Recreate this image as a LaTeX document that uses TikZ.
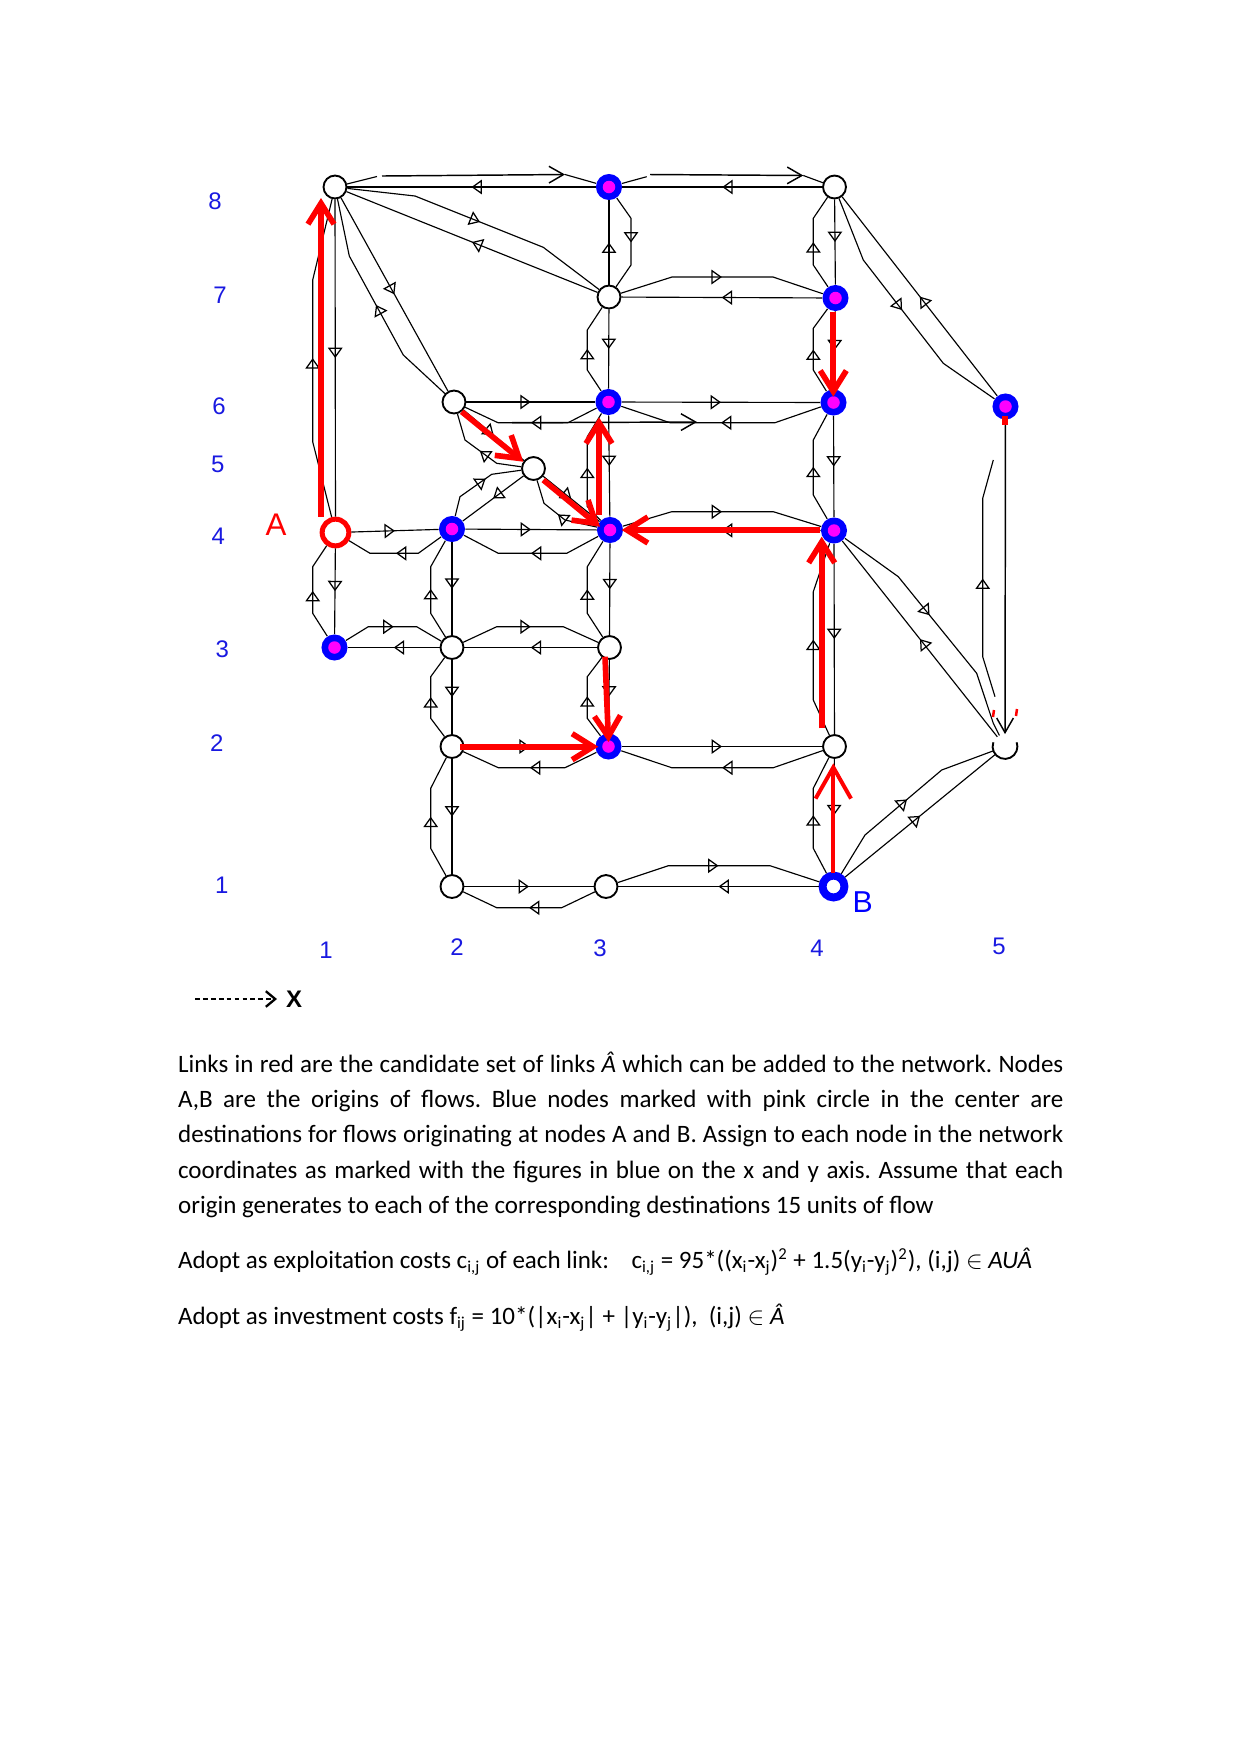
\documentclass[tikz,border=0pt]{standalone}
\usepackage{fontspec}
\setmainfont{Carlito}
\newfontfamily\arialf{Liberation Sans}
\usetikzlibrary{arrows.meta,decorations.markings,calc}
\definecolor{lblue}{RGB}{25,25,225}
\definecolor{pinkc}{RGB}{255,0,255}
\definecolor{nblue}{RGB}{0,0,255}
\definecolor{rred}{RGB}{255,0,0}
\tikzset{
 wn/.style={circle, draw=black, line width=0.9pt, fill=white, minimum size=11pt, inner sep=0pt},
 bn/.style={circle, fill=nblue, minimum size=12.5pt, inner sep=0pt, path picture={\fill[pinkc] (path picture bounding box.center) circle (3pt);}},
 an/.style={circle, draw=rred, line width=2.4pt, fill=white, minimum size=12.8pt, inner sep=0pt},
 bbn/.style={circle, draw=nblue, line width=3.8pt, fill=white, minimum size=10.5pt, inner sep=0pt},
 lk/.style={line width=0.55pt, postaction={decorate}, decoration={markings, mark=at position #1 with {\arrow{Triangle[open,length=5pt,width=7pt,line width=0.6pt]}}}},
 lk/.default=0.5,
 ln/.style={line width=0.55pt},
 va/.style={line width=0.7pt, -{Straight Barb[length=7pt,width=8pt,line width=0.7pt]}},
 ra/.style={draw=rred, line width=2.7pt, -{Straight Barb[length=10pt,width=12.5pt]}},
 lab/.style={text=lblue, font=\arialf\fontsize{11.5pt}{13pt}\selectfont, inner sep=0pt},
}
\begin{document}
\begin{tikzpicture}[x=0.47968pt,y=-0.47968pt]
\path[use as bounding box, fill=white] (0,0) rectangle (1241,1755);

% nodes
\node[wn] (n18) at (335,187) {};
\node[bn] (n38) at (609,187) {};
\node[wn] (n48) at (834.5,187) {};
\node[wn] (n37) at (609,297) {};
\node[bn] (n47) at (835.5,298) {};
\node[wn] (n26) at (454,402) {};
\node[bn] (n36) at (608.5,402) {};
\node[bn] (n46) at (833.5,402.5) {};
\node[bn] (n56) at (1005.5,406.5) {};
\node[wn] (n25) at (533.5,468.5) {};
\node[an] (nA) at (335.5,532.5) {};
\node[bn] (n24) at (452,529) {};
\node[bn] (n34) at (610,530) {};
\node[bn] (n44) at (834,530.5) {};
\node[bn] (n13) at (334.5,647.5) {};
\node[wn] (n23) at (452,647.5) {};
\node[wn] (n33) at (609.5,647.5) {};
\node[wn] (n22) at (452,746.5) {};
\node[bn] (n32) at (608.5,746.5) {};
\node[wn] (n42) at (834.5,746.5) {};
\node[wn,draw=none] (n52) at (1005,746.5) {};
\draw[line width=0.9pt] (n52.160) arc[start angle=160,end angle=380,radius=5.95pt];
\node[wn] (n21) at (452,886.5) {};
\node[wn] (n31) at (606,886.5) {};
\node[bbn] (nB) at (833.5,886.5) {};

% labels
\node[lab] (ly8) at (215,201.7) {8};
\node[lab] (ly7) at (220,295) {7};
\node[lab] (ly6) at (219,406.7) {6};
\node[lab] (ly5) at (217.7,464.3) {5};
\node[lab] (ly4) at (218.3,536.7) {4};
\node[lab] (ly3) at (222.3,649.3) {3};
\node[lab] (ly2) at (216.7,743) {2};
\node[lab] (ly1) at (221.7,885) {1};
\node[lab] (lx1) at (326,950) {1};
\node[lab] (lx2) at (457,946.7) {2};
\node[lab] (lx3) at (600,948) {3};
\node[lab] (lx4) at (817,948) {4};
\node[lab] (lx5) at (999,946) {5};
\node[text=rred, font=\arialf\fontsize{15pt}{17pt}\selectfont, inner sep=0pt] (lA) at (276,525) {A};
\node[text=nblue, font=\arialf\fontsize{14.5pt}{16pt}\selectfont, inner sep=0pt] (lB) at (862.7,901.7) {B};

% row 8
\draw[lk] (n38) -- (n18);
\draw[ln] (n18) -- (377,176.5);
\coordinate (u2) at (382,176); \coordinate (u3) at (565,174.5);
\draw[va] (u2) -- (u3); \draw[ln] (u3) -- (n38);
\draw[lk] (n48) -- (n38);
\draw[ln] (n38) -- (646.7,176.7);
\coordinate (u5) at (650,174.5); \coordinate (u6) at (803.3,175.5);
\draw[va] (u5) -- (u6); \draw[ln] (u6) -- (n48);
% row 7
\draw[lk] (n47) -- (n37);
\draw[lk] (n37) -- (672,277) -- (773,277) -- (n47);
% row 6
\draw[lk] (n26) -- (n36);
\draw[lk] (n36) -- (568,422.7) -- (498,422.7) -- (n26);
\coordinate (w1) at (512,422.7); \coordinate (w2) at (697,422);
\draw[va] (w1) -- (w2);
\draw[lk] (n36) -- (n46);
\draw[lk] (n46) -- (775,422.7) -- (670,422.7) -- (n36);
% row 4
\draw[lk] (nA) -- (n24);
\draw[lk] (n24) -- (418.3,553.3) -- (370,553.3) -- (nA);
\draw[lk] (n24) -- (n34);
\draw[lk] (n34) -- (566.7,553.3) -- (498.3,553.3) -- (n24);
\draw[lk] (n44) -- (n34);
\draw[lk] (n34) -- (671.7,511.7) -- (773.3,511.7) -- (n44);
% row 3
\draw[lk] (n23) -- (n13);
\draw[lk] (n13) -- (368.3,626.7) -- (416.7,626.7) -- (n23);
\draw[lk] (n33) -- (n23);
\draw[lk] (n23) -- (496.7,626.7) -- (563.3,626.7) -- (n33);
% row 2
\draw[lk] (n22) -- (n32);
\draw[lk] (n32) -- (565,767.7) -- (498.3,767.7) -- (n22);
\draw[lk] (n32) -- (n42);
\draw[lk] (n42) -- (773.3,767.7) -- (671.7,767.7) -- (n32);
% row 1
\draw[lk] (n21) -- (n31);
\draw[lk] (n31) -- (561.7,907.7) -- (496.7,907.7) -- (n21);
\draw[lk] (nB) -- (n31);
\draw[lk] (n31) -- (668.3,865.7) -- (770,865.7) -- (nB);
% column 1
\draw[lk] (n18) -- (nA);
\draw[lk] (nA) -- (312.7,441.7) -- (312.7,280) -- (n18);
\draw[lk] (nA) -- (n13);
\draw[lk] (n13) -- (312.7,613.3) -- (312.7,566.7) -- (nA);
% column 2
\draw[lk] (n24) -- (n23);
\draw[lk] (n23) -- (430.7,613.3) -- (430.7,566.7) -- (n24);
\draw[lk] (n23) -- (n22);
\draw[lk] (n22) -- (430.7,718.3) -- (430.7,676.7) -- (n23);
\draw[lk] (n22) -- (n21);
\draw[lk] (n21) -- (430.7,848.3) -- (430.7,788.3) -- (n22);
% column 3
\draw[lk] (n37) -- (n38);
\draw[lk] (n38) -- (631,218.3) -- (631,265) -- (n37);
\draw[lk] (n37) -- (n36);
\draw[lk] (n36) -- (587.3,370) -- (587.3,330) -- (n37);
\draw[lk] (n36) -- (n34);
\draw[lk] (n34) -- (587.3,506.7) -- (587.3,436.7) -- (n36);
\draw[lk] (n34) -- (n33);
\draw[lk] (n33) -- (587.3,613.3) -- (587.3,566.7) -- (n34);
\draw[lk] (n33) -- (n32);
\draw[lk] (n32) -- (587.3,718.3) -- (587.3,676.7) -- (n33);
% column 4
\draw[lk] (n48) -- (n47);
\draw[lk] (n47) -- (813.3,265) -- (813.3,218.3) -- (n48);
\draw[lk] (n47) -- (n46);
\draw[lk] (n46) -- (813.3,370) -- (813.3,328.3) -- (n47);
\draw[lk] (n46) -- (n44);
\draw[lk] (n44) -- (813.3,495) -- (813.3,440) -- (n46);
\draw[lk] (n44) -- (n42);
\draw[lk] (n42) -- (813.3,700) -- (813.3,591.7) -- (n44);
\draw[lk] (n42) -- (nB);
\draw[lk] (nB) -- (813.3,848.3) -- (813.3,788.3) -- (n42);
% diagonals
\draw[lk] (n37) -- (n18);
\draw[lk] (n18) -- (415,196) -- (543.3,247.3) -- (n37);
\draw[lk] (n18) -- (n26);
\draw[lk] (n26) -- (403.3,355) -- (349.3,256) -- (n18);
\draw[lk] (n26) -- (n25);
\draw[lk] (n25) -- (496.7,463.3) -- (465,440) -- (n26);
\draw[lk] (n25) -- (n34);
\draw[lk] (n34) -- (565,520) -- (544,503.3) -- (n25);
\draw[lk] (n25) -- (n24);
\draw[lk=0.58] (n24) -- (460,496.7) -- (491.7,474.3) -- (n25);
\draw[lk] (n56) -- (n48);
\draw[lk] (n48) -- (863.3,260) -- (943.3,363.3) -- (n56);
\draw[lk] (n52) -- (n44);
\draw[lk=0.45] (n44) -- (898.3,576.7) -- (976.7,673.3) -- (993.3,723.3) -- (n52);
\draw[lk] (nB) -- (n52);
\draw[lk] (nB) -- (865,835) -- (941.7,770) -- (n52);
\draw[va] (n56) -- (n52);
\coordinate (fa) at (995,696.7); \coordinate (fb) at (982.7,656.7);
\coordinate (fc) at (982.7,498.3); \coordinate (fd) at (993.3,460);
\draw[lk] (fa) -- (fb) -- (fc) -- (fd);
\fill[rred] (1002,416) rectangle (1008,425);
\draw[rred, line width=1.2pt] (994,710) -- (993,717);
\draw[rred, line width=1.2pt] (1017,709) -- (1016,716);

% red candidate links
\coordinate (r1a) at (321,516.7); \coordinate (r1b) at (321,198);
\coordinate (r2a) at (461.7,411.7); \coordinate (r2b) at (523.3,461.7);
\coordinate (r3a) at (543.3,480); \coordinate (r3b) at (600,526.7);
\coordinate (r4a) at (599,515); \coordinate (r4b) at (599,417.3);
\coordinate (r5a) at (833.3,311.7); \coordinate (r5b) at (833.3,396.7);
\coordinate (r6a) at (820,530); \coordinate (r6b) at (621.7,530);
\coordinate (r7a) at (821.7,728.3); \coordinate (r7b) at (821.7,536.7);
\coordinate (r8a) at (605,656.7); \coordinate (r8b) at (608.5,742);
\coordinate (r9a) at (460,746.7); \coordinate (r9b) at (598.3,746.7);
\coordinate (r10a) at (833.3,873.3); \coordinate (r10b) at (833.3,763.3);
\draw[ra] (r1a) -- (r1b);
\draw[ra] (r2a) -- (r2b);
\draw[ra] (r3a) -- (r3b);
\draw[ra] (r4a) -- (r4b);
\draw[ra] (r5a) -- (r5b);
\draw[ra] (r6a) -- (r6b);
\draw[ra] (r7a) -- (r7b);
\draw[ra] (r8a) -- (r8b);
\draw[ra] (r9a) -- (r9b);
\draw[draw=rred, line width=1.9pt, -{Straight Barb[length=15pt,width=17pt]}] (r10a) -- (r10b);

% x axis hint
\coordinate (xa0) at (195,999);
\node[font=\arialf\bfseries\fontsize{11.5pt}{13pt}\selectfont, inner sep=0pt] (xlab) at (294,999) {X};
\coordinate (xa1) at (277,999);
\draw[line width=1.3pt, dash pattern=on 2.3pt off 1.5pt, -{Straight Barb[length=4.5pt,width=7.5pt,line width=1.1pt]}] (xa0) -- (xa1);

% text
\node[anchor=base west, inner sep=0pt] (para) at (177.7,1072.3) {\parbox[t]{424.6pt}{\frenchspacing\fontsize{12pt}{16.93pt}\selectfont
\makebox[424.6pt][s]{Links in red are the candidate set of links \textit{Â} which can be added to the network. Nodes}\\
\makebox[424.6pt][s]{A,B are the origins of flows. Blue nodes marked with pink circle in the center are}\\
\makebox[424.6pt][s]{destinations for flows originating at nodes A and B. Assign to each node in the network}\\
\makebox[424.6pt][s]{coordinates as marked with the figures in blue on the x and y axis. Assume that each}\\
origin generates to each of the corresponding destinations 15 units of flow}};
\node[anchor=base west, inner sep=0pt, font=\frenchspacing\fontsize{12pt}{14pt}\selectfont] (cost1) at (177.7,1268.3) {Adopt as exploitation costs c\textsubscript{i,j} of each link:\hspace{0.9em}c\textsubscript{i,j} = 95*((x\textsubscript{i}-x\textsubscript{j})\textsuperscript{2} + 1.5(y\textsubscript{i}-y\textsubscript{j})\textsuperscript{2}), (i,j) $\in$ \textit{AUÂ}};
\node[anchor=base west, inner sep=0pt, font=\frenchspacing\fontsize{12pt}{14pt}\selectfont] (cost2) at (177.7,1324.3) {Adopt as investment costs f\textsubscript{ij} = 10*(|x\textsubscript{i}-x\textsubscript{j}| + |y\textsubscript{i}-y\textsubscript{j}|),\ \ (i,j) $\in$ \textit{Â}};
\end{tikzpicture}
\end{document}
